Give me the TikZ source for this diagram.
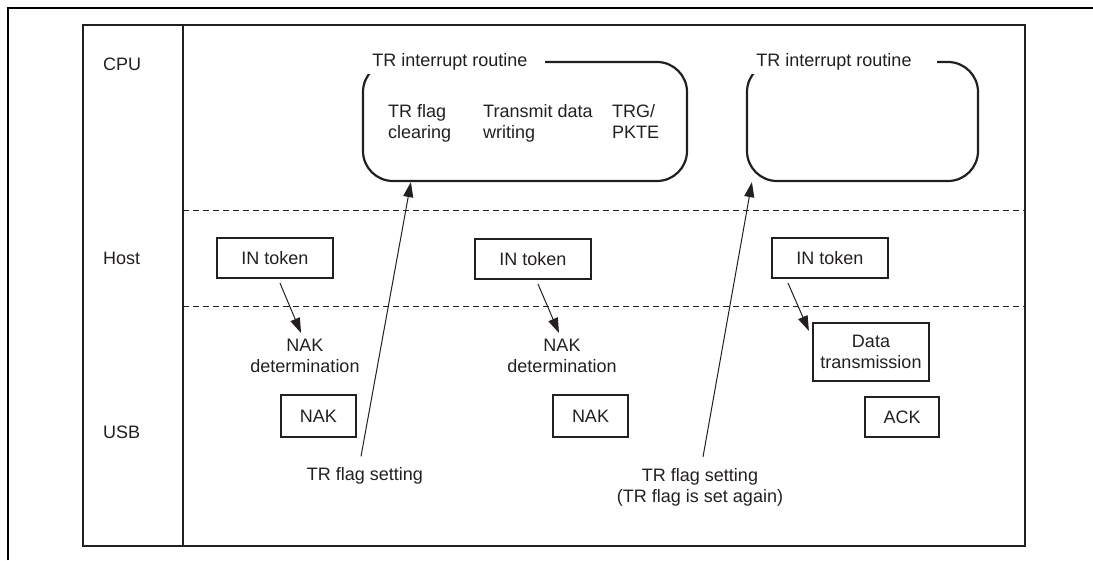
\documentclass[tikz,border=0pt]{standalone}
\usepackage{fontspec}
\setmainfont{Liberation Sans}
\usetikzlibrary{arrows.meta,calc}
\definecolor{ink}{RGB}{35,31,32}
\begin{document}
\begin{tikzpicture}[x=1pt,y=-1pt,
  every node/.style={font=\fontsize{18}{21}\selectfont, text=ink, inner sep=0pt},
  frame/.style={draw=ink, line width=2.2pt},
  sepline/.style={draw=ink, line width=1pt, dash pattern=on 6pt off 4pt},
  boxn/.style={draw=ink, line width=2.2pt, minimum width=116pt, minimum height=40pt, align=center},
  routine/.style={draw=ink, line width=2.2pt, rounded corners=30pt, minimum height=119pt},
  rtitle/.style={fill=white, minimum height=24pt},
  arr/.style={draw=ink, line width=1pt, -{Triangle[length=15pt,width=10pt]}},
  lbl/.style={align=center},
  lefttxt/.style={align=left, anchor=west},
]
\useasboundingbox (0,0) rectangle (1093,560);
% outer lines
\draw[line width=2.2pt, black] (8,560) -- (8,8) -- (1093,8);
% inner frame
\draw[frame] (83,25) rectangle (1025,546);
\draw[frame] (183,25) -- (183,546);
\draw[sepline] (183,210) -- (1025,210);
\draw[sepline] (183,306) -- (1025,306);
% lane labels
\node[anchor=west] (cpu) at (103,64) {CPU};
\node[anchor=west] (host) at (103,258) {Host};
\node[anchor=west] (usb) at (103,432) {USB};
% routines
\node[routine, minimum width=324pt] (r1) at (525,121.5) {};
\node[rtitle, minimum width=190pt] (t1) at (450,62) {TR interrupt routine};
\node[lefttxt] (c1) at (388,124) {\strut TR flag\\\strut clearing};
\node[lefttxt] (c2) at (483,124) {\strut Transmit data\\\strut writing};
\node[lefttxt] (c3) at (612,124) {\strut TRG/\\\strut PKTE};
\node[routine, minimum width=231pt] (r2) at (862.5,121.5) {};
\node[rtitle, minimum width=206pt] (t2) at (834,62) {TR interrupt routine};
% host tokens
\node[boxn] (in1) at (275,258) {IN token};
\node[boxn] (in2) at (533,259) {IN token};
\node[boxn] (in3) at (830,258) {IN token};
% usb
\node[lbl] (nd1) at (305,356) {NAK\\determination};
\node[lbl] (nd2) at (562,356) {NAK\\determination};
\node[boxn, minimum width=116pt, minimum height=58pt] (dt) at (871,352) {Data\\transmission};
\node[boxn, minimum width=75pt, minimum height=42pt] (nak1) at (318.5,416) {NAK};
\node[boxn, minimum width=75pt, minimum height=42pt] (nak2) at (590.5,416) {NAK};
\node[boxn, minimum width=74pt, minimum height=40pt] (ack) at (902,417) {ACK};
% flag labels
\node[lbl] (f1) at (365,476) {TR flag setting};
\node[lbl] (f2) at (700,487) {TR flag setting\\(TR flag is set again)};
% arrows
\draw[arr] ($(in1.south)+(5,4)$) -- ($(nd1.north)+(-4,-6)$);
\draw[arr] ($(in2.south)+(5,4)$) -- ($(nd2.north)+(-3,-6)$);
\draw[arr] ($(in3.south)+(-42,4)$) -- ($(dt.north west)+(-3,9)$);
\draw[arr] ($(f1.north)+(-4,-11)$) -- ($(r1.south west)+(49,0)$);
\draw[arr] ($(f2.north)+(3,-11)$) -- ($(r2.south west)+(6,0)$);
\end{tikzpicture}
\end{document}
